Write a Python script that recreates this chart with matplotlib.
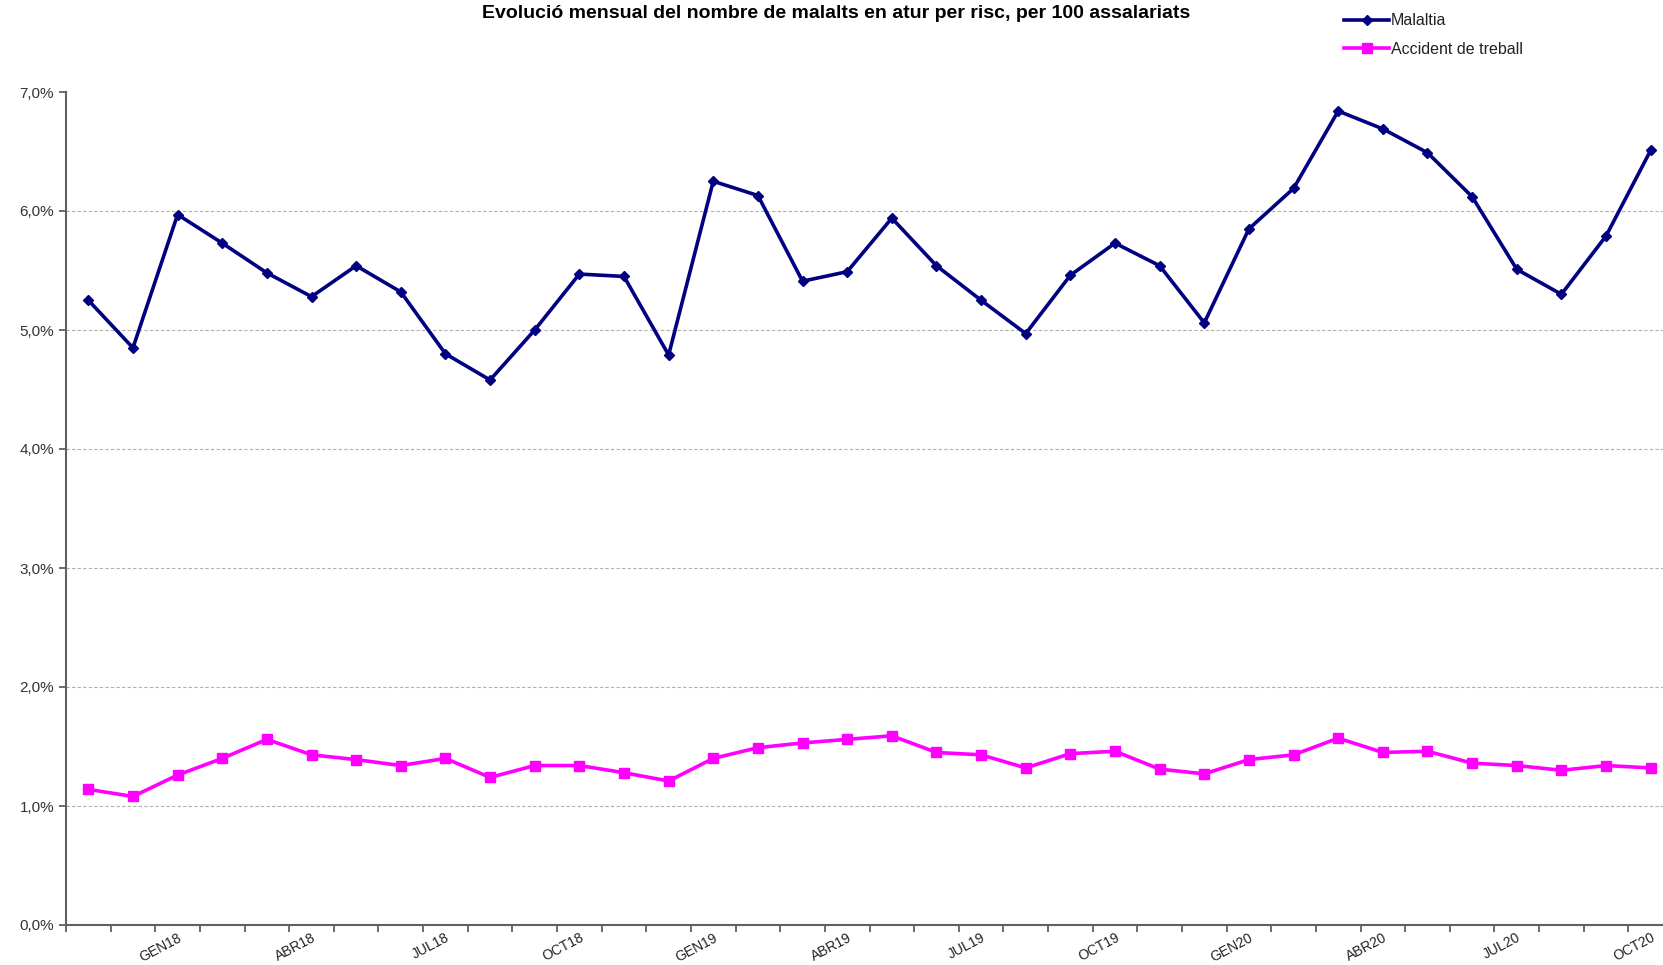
import numpy as np
import matplotlib
matplotlib.use("Agg")
import matplotlib.pyplot as plt
from matplotlib.ticker import FuncFormatter

plt.rcParams['font.family'] = ['Liberation Sans', 'DejaVu Sans']

# months NOV17 .. OCT20
mesos = ['NOV17', 'DES17',
         'GEN18', 'FEB18', 'MAR18', 'ABR18', 'MAI18', 'JUN18', 'JUL18', 'AGO18', 'SET18', 'OCT18', 'NOV18', 'DES18',
         'GEN19', 'FEB19', 'MAR19', 'ABR19', 'MAI19', 'JUN19', 'JUL19', 'AGO19', 'SET19', 'OCT19', 'NOV19', 'DES19',
         'GEN20', 'FEB20', 'MAR20', 'ABR20', 'MAI20', 'JUN20', 'JUL20', 'AGO20', 'SET20', 'OCT20']

malaltia = [5.25, 4.85, 5.97, 5.73, 5.48, 5.28, 5.54, 5.32, 4.80, 4.58, 5.00, 5.47,
            5.45, 4.79, 6.25, 6.13, 5.41, 5.49, 5.94, 5.54, 5.25, 4.97, 5.46, 5.73,
            5.54, 5.06, 5.85, 6.19, 6.84, 6.69, 6.49, 6.12, 5.51, 5.30, 5.79, 6.51]

accident = [1.14, 1.08, 1.26, 1.40, 1.56, 1.43, 1.39, 1.34, 1.40, 1.24, 1.34, 1.34,
            1.28, 1.21, 1.40, 1.49, 1.53, 1.56, 1.59, 1.45, 1.43, 1.32, 1.44, 1.46,
            1.31, 1.27, 1.39, 1.43, 1.57, 1.45, 1.46, 1.36, 1.34, 1.30, 1.34, 1.32]

W, H = 1663, 965
fig = plt.figure(figsize=(W / 100, H / 100), dpi=100)
left, right, top, bottom = 66, 1673, 92, 925
ax = fig.add_axes([left / W, 1 - bottom / H, (right - left) / W, (bottom - top) / H])

x = np.arange(len(mesos))
l1, = ax.plot(x, malaltia, color='#000080', lw=2.6, marker='D', ms=5, label='Malaltia')
l2, = ax.plot(x, accident, color='#FF00FF', lw=2.6, marker='s', ms=7, label='Accident de treball')

ax.set_xlim(-0.5, len(mesos) - 0.5)
ax.set_ylim(0, 7)
ax.set_yticks(np.arange(0, 8, 1))
ax.yaxis.set_major_formatter(FuncFormatter(lambda v, p: f'{v:.1f}%'.replace('.', ',')))

# ticks between categories, labels every 3 months
ax.set_xticks(np.arange(-0.5, len(mesos), 1))
ax.set_xticklabels([])
lab_pos = x[2::3]
ax.set_xticks(lab_pos, [mesos[i] for i in lab_pos], minor=True)
ax.tick_params(axis='x', which='minor', length=0, pad=4)
for t in ax.get_xticklabels(minor=True):
    t.set_rotation(28)
    t.set_ha('right')
    t.set_va('top')
    t.set_rotation_mode('anchor')

ax.tick_params(axis='both', which='major', direction='out', length=5, width=1.3, color='#606060',
               labelsize=11, labelcolor='#333333')
ax.tick_params(axis='x', which='minor', labelsize=10, labelcolor='#222222')

for s in ['top', 'right']:
    ax.spines[s].set_visible(False)
for s in ['left', 'bottom']:
    ax.spines[s].set_color('#606060')
    ax.spines[s].set_linewidth(1.5)

ax.grid(axis='y', color='#b0b0b0', ls=(0, (3, 2)), lw=0.8)
ax.set_axisbelow(True)
ax.yaxis.get_gridlines()[-1].set_visible(False)

fig.text(836 / W, 1 - 13 / H, 'Evolució mensual del nombre de malalts en atur per risc, per 100 assalariats',
         ha='center', va='center', fontsize=14, fontweight='bold')

fig.legend(handles=[l1, l2], loc='upper left', bbox_to_anchor=(1330 / W, 1 + 1 / H), frameon=False,
           fontsize=11.5, handlelength=2.8, handletextpad=0.1, labelspacing=0.85, labelcolor='#222222')

fig.savefig('out.png', dpi=100)
